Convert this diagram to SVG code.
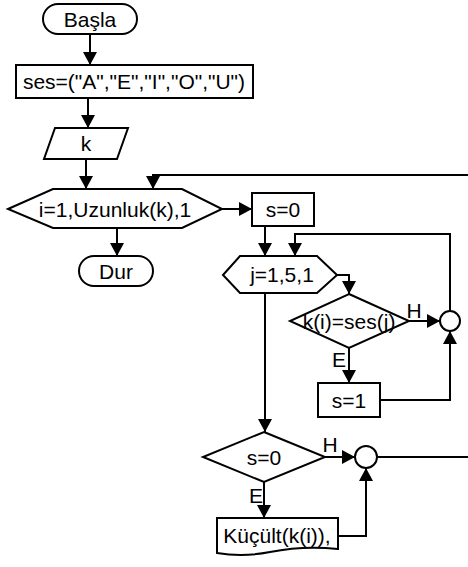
<svg xmlns="http://www.w3.org/2000/svg" width="468" height="567" viewBox="0 0 468 567">
<defs>
<marker id="ah" markerWidth="14" markerHeight="14" viewBox="0 0 13 14" refX="13" refY="7" orient="auto" markerUnits="userSpaceOnUse">
<path d="M0,0 L13,7 L0,14 Z" fill="#000"/>
</marker>
</defs>
<style>
.s{fill:#fff;stroke:#000;stroke-width:2}
.t{font-family:"Liberation Sans",Arial,sans-serif;font-size:21px;fill:#000;text-anchor:middle;dominant-baseline:central}
.l{font-family:"Liberation Sans",Arial,sans-serif;font-size:21px;fill:#000;text-anchor:middle}
.c{fill:none;stroke:#000;stroke-width:2}
</style>
<rect width="468" height="567" fill="#fff"/>
<g id="connectors">
<path class="c" d="M90,34 V65" marker-end="url(#ah)"/>
<path class="c" d="M88,98 V128" marker-end="url(#ah)"/>
<path class="c" d="M86,159 V189" marker-end="url(#ah)"/>
<path class="c" d="M468,175 H153 V189" marker-end="url(#ah)"/>
<path class="c" d="M222,209 H252" marker-end="url(#ah)"/>
<path class="c" d="M117,228 V256" marker-end="url(#ah)"/>
<path class="c" d="M265,226 V256" marker-end="url(#ah)"/>
<path class="c" d="M450,311 V234 H295 V256" marker-end="url(#ah)"/>
<path class="c" d="M337,275 H349 V294" marker-end="url(#ah)"/>
<path class="c" d="M409,321 H440" marker-end="url(#ah)"/>
<path class="c" d="M349,348 V383" marker-end="url(#ah)"/>
<path class="c" d="M380,400 H450 V331" marker-end="url(#ah)"/>
<path class="c" d="M265,293 V432" marker-end="url(#ah)"/>
<path class="c" d="M325,457 H355" marker-end="url(#ah)"/>
<path class="c" d="M377,457 H468"/>
<path class="c" d="M264,482 V518" marker-end="url(#ah)"/>
<path class="c" d="M338,536 H366 V468" marker-end="url(#ah)"/>
</g>
<g id="basla"><rect class="s" x="43" y="4" width="94" height="30" rx="15"/><text class="t" x="90" y="19">Başla</text></g>
<g id="ses"><rect class="s" x="16" y="65" width="237" height="33"/><text class="t" x="134" y="81">ses=("A","E","I","O","U")</text></g>
<g id="k"><polygon class="s" points="55,128 128,128 117,159 44,159"/><text class="t" x="86" y="143">k</text></g>
<g id="loopi"><polygon class="s" points="8,209 53,189 182,189 222,209 182,228 53,228"/><text class="t" x="115" y="209">i=1,Uzunluk(k),1</text></g>
<g id="dur"><rect class="s" x="79" y="256" width="74" height="30" rx="15"/><text class="t" x="116" y="271">Dur</text></g>
<g id="s0"><rect class="s" x="252" y="193" width="62" height="33"/><text class="t" x="283" y="209">s=0</text></g>
<g id="loopj"><polygon class="s" points="223,275 240,256 317,256 337,275 317,293 240,293"/><text class="t" x="282" y="274">j=1,5,1</text></g>
<g id="cond1"><polygon class="s" points="349,294 409,321 349,348 290,321"/><text class="t" x="349" y="321">k(i)=ses(j)</text></g>
<g id="s1"><rect class="s" x="318" y="383" width="62" height="34"/><text class="t" x="349" y="400">s=1</text></g>
<g id="circ1"><circle class="s" cx="450" cy="321" r="10"/></g>
<g id="cond2"><polygon class="s" points="264,432 325,457 264,482 203,457"/><text class="t" x="264" y="457">s=0</text></g>
<g id="circ2"><circle class="s" cx="366" cy="457" r="11"/></g>
<g id="kucult"><path class="s" d="M217,518 H338 V549 C310,546 290,548 270,552 C250,556 235,556 217,553 Z"/><text class="t" x="277" y="535">Küçült(k(i)),</text></g>
<g id="labels">
<text class="l" x="414" y="318">H</text>
<text class="l" x="339" y="367">E</text>
<text class="l" x="330" y="452">H</text>
<text class="l" x="256" y="503">E</text>
</g>
</svg>
